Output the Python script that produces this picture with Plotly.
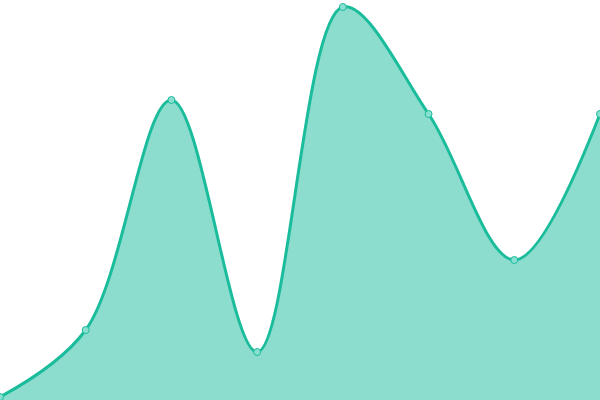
import plotly.graph_objects as go

# Punkte der Kurve (x-Index, Wert)
x_vals = [0, 1, 2, 3, 4, 5, 6, 7]
y_vals = [3, 70, 300, 48, 393, 286, 140, 286]

LINE = "#1abc9c"
FILL = "rgba(26,188,156,0.5)"

fig = go.Figure(
    go.Scatter(
        x=x_vals,
        y=y_vals,
        mode="lines+markers",
        line=dict(color=LINE, width=3, shape="spline", smoothing=1),
        fill="tozeroy",
        fillcolor=FILL,
        marker=dict(size=7, color="#8ae0d0", line=dict(color=LINE, width=1)),
        cliponaxis=False,
        hoverinfo="x+y",
    )
)

fig.update_layout(
    width=600,
    height=400,
    margin=dict(l=0, r=0, t=0, b=0),
    paper_bgcolor="white",
    plot_bgcolor="white",
    showlegend=False,
    xaxis=dict(visible=False, range=[0, 7]),
    yaxis=dict(visible=False, range=[0, 400]),
)

# Seitenrand weg, damit die Fläche bündig sitzt
fig.write_html(
    "out.html",
    config={"displayModeBar": False},
    post_script="document.body.style.margin='0';",
)
